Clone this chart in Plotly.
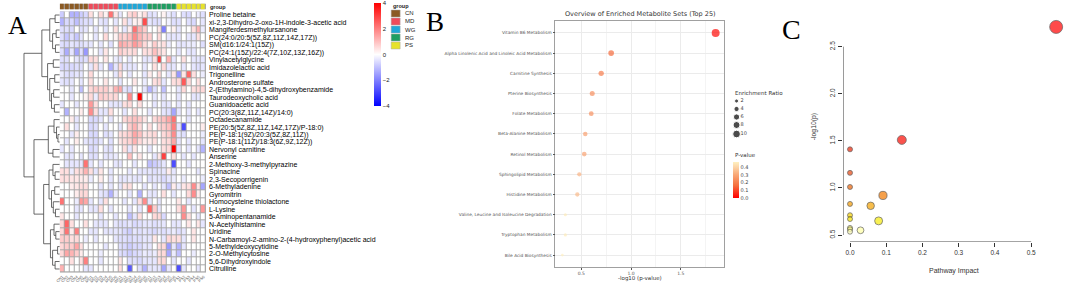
import math
import plotly.graph_objects as go

W, H = 1065, 284


def fx(p):
    return p / W


def fy(p):
    return 1 - p / H


# ---------------- Panel A: heatmap data ----------------
metabolites = [
    "Proline betaine", "xi-2,3-Dihydro-2-oxo-1H-indole-3-acetic acid", "Mangiferdesmethylursanone",
    "PC(24:0/20:5(5Z,8Z,11Z,14Z,17Z))", "SM(d16:1/24:1(15Z))", "PC(24:1(15Z)/22:4(7Z,10Z,13Z,16Z))",
    "Vinylacetylglycine", "Imidazolelactic acid", "Trigonelline", "Androsterone sulfate",
    "2-(Ethylamino)-4,5-dihydroxybenzamide", "Taurodeoxycholic acid", "Guanidoacetic acid",
    "PC(20:3(8Z,11Z,14Z)/14:0)", "Octadecanamide", "PE(20:5(5Z,8Z,11Z,14Z,17Z)/P-18:0)",
    "PE(P-18:1(9Z)/20:3(5Z,8Z,11Z))", "PE(P-18:1(11Z)/18:3(6Z,9Z,12Z))", "Nervonyl carnitine",
    "Anserine", "2-Methoxy-3-methylpyrazine", "Spinacine", "2,3-Secoporrigenin", "6-Methyladenine",
    "Gyromitrin", "Homocysteine thiolactone", "L-Lysine", "5-Aminopentanamide", "N-Acetylhistamine",
    "Uridine", "N-Carbamoyl-2-amino-2-(4-hydroxyphenyl)acetic acid", "5-Methyldeoxycytidine",
    "2-O-Methylcytosine", "5,6-Dihydroxyindole", "Citrulline",
]
sample_groups = ["CN", "MD", "WG", "RG", "PS"]
group_colors = ["#8B5A24", "#EE4B5B", "#1FA7D8", "#1F9E62", "#E6E22C"]
sample_labels = [f"{g}{i}" for g in sample_groups for i in range(1, 7)]
sample_group_index = [gi for gi in range(5) for _ in range(6)]

heat_values = [
    [-0.8, 0, -1.2, -1.2, -0.8, -0.6, 0.5, 0, 0.6, 0.2, 2.2, 0.4, -0.4, 0, 0.6, 0.8, 0.2, 0.5, -0.5, -0.4, 0, 0.2, -0.3, -0.5, 0, -0.5, -0.6, 0, -0.3, -0.5],
    [-1.2, -0.6, -0.6, -1, -0.6, -0.5, -0.5, 0, -0.4, -0.5, 0, -0.4, 0, 0.5, -0.4, 0.2, 0.3, 2.8, -0.4, -0.5, -0.5, 0, -0.2, -0.5, -0.5, 0, -0.5, -0.6, 0, -0.4],
    [-0.5, -0.5, -0.6, 0, -0.5, -0.4, 0, -0.4, 0, -0.4, 0, 0.5, 0, -0.4, 0.3, 2.2, 1.2, 0.8, 0, 0, 0.4, -2, 0, 0.2, -0.4, 0, 0, 0.5, 1.2, -0.3],
    [-0.5, -0.9, -0.5, -0.9, -0.4, 0, 0, -0.4, 0, 0.6, 0, 0.2, 0.8, 0.7, 1, 1.8, 1.2, 0.8, 0.8, 0, 0.6, 0, -0.4, -0.4, -0.4, 0, -0.4, -0.4, 0.5, 0],
    [-0.5, -0.6, -0.4, -0.5, -0.5, -0.4, -0.4, 0, -0.4, 0, -0.5, 0, 1.4, 1.2, 1, 1.6, 1.2, 0.6, 0.2, 0.8, 0.3, 0.5, -0.3, 0, -0.4, -0.4, -0.3, -0.3, 0, -0.5],
    [-0.5, -1.3, -0.4, -1.4, -0.5, -1.6, 0, 0, -0.4, 0.4, 0, 0, 0.8, 0.6, 0.5, 0.6, 0, 0.5, 0.5, 1, 0.6, 0.4, 0, 0, -0.4, 0, -0.4, -0.4, 0, 0],
    [-0.5, -0.5, 0, -0.4, -0.6, -0.5, 0.6, 0.5, 0, 0.4, 0, -0.3, -0.4, 0, -0.4, 0, 0, -0.4, -0.4, 0.5, 3, 0, 1.2, -0.4, 0, 0.5, 0, -0.4, -0.4, -0.4],
    [-0.6, -0.6, -0.6, -0.5, -0.5, 0, -0.4, 0.5, -0.4, 0, -1.2, -0.4, 0.6, -0.4, -0.4, -0.4, 0, -0.4, 0, 0.5, 0, 0.6, -0.4, -0.4, 0, -0.4, 0, -0.4, -0.5, -0.4],
    [-0.3, -0.5, -0.5, -0.4, -0.4, 0, 0.6, 0, 0, 0, 0, -0.4, 0.6, 0, -0.4, 0, 0, -0.4, 0.3, 0, 0.6, 0, -0.4, 0.4, -1.6, 0.4, 2.4, 0.5, 0, -0.3],
    [-0.4, -0.5, -0.4, 0, -0.4, 0, 0.5, 0, 0, 0.4, 0, 0, -0.4, 0, 0, 0.4, 0, -0.3, 0, 0.5, 0.6, -0.4, 0, 0.5, 0.6, 2.6, 0.6, 0, 0.5, 0],
    [0, 0, -0.4, 0, -1, 0, 0.6, 0.8, 0.7, 0.8, 0.4, 1.2, 1.4, -0.4, -0.6, 0, 0, -0.4, -1.2, -0.5, 0, -1, 0, 0, -0.4, 0.6, 0, 0.5, 0.6, 0.6],
    [0, 0, -0.4, 0, 0, 0.2, 0.6, -0.3, 0.8, 0.7, 0.6, 0.6, 0, 0, 1.8, 0, 4, 0, 0, -0.4, 0, -0.4, 0, 0, -0.4, 0, 0, -0.4, -0.4, 0],
    [-0.4, 0, 0, -0.4, 0, 0, 1.6, 0.5, 0, 0, -0.4, -0.4, -0.4, 0.5, 0.6, 0, 0.5, 0, 0, -0.4, 0, -0.4, -0.4, 0, -0.4, 0, -0.4, 0, 0, 0],
    [0, -1.2, 0, 0, 0.3, 0, 1.8, 0.5, -0.4, -0.4, 0.5, 0, 0, -0.4, 0, 0.5, 0, 0, -0.4, 0, 0, -0.4, -0.5, -1.4, -0.4, 0, -0.4, 0, -0.4, 0],
    [0, 0, 0.3, -0.4, 0, 0, -0.6, -0.6, -0.4, 0, -0.4, 0, 0, 0.6, 0.8, 1, 0.8, 0.4, 0, 0.6, 0.8, 1, 1.4, 2.2, 0, 0, -0.4, 0, 0, 0],
    [0, 0.5, 0, -0.4, 0, 0, -0.6, -0.5, 0, -0.4, 0, 0, -0.4, 0, 0.8, 1.2, 0.6, 0, 0.5, 0, 0.6, 0.8, 1, 2, -0.4, -2.8, 0, 0, 0, 0.3],
    [0, 0, -0.4, 0.3, 0, 0, -0.6, -0.6, 0, -0.5, -0.4, 0, 0.5, 0.6, 0.8, 1.4, 1, 0.4, 0.5, 0.6, 0, 0.6, 0.8, 1.8, -0.4, -0.5, 0, 0, 0, -0.3],
    [0, -0.4, 0, 0.3, 0, -0.4, -0.5, -0.6, -0.4, 0, -0.5, 0, 0.4, 0.6, 0.7, 1.2, 0.6, 0.3, 0.3, 0.5, 0, 0.5, 0.6, 1.4, -0.4, 0, -0.4, 0, 0, -0.4],
    [-0.4, 0, -0.4, 0, 0, 0, -0.6, -0.5, 0, -0.4, -0.5, 0, 0, 0.5, -0.4, 0.4, 0, 0, -0.4, 0, 0, 0.5, 0.6, 4, -0.4, 0, -0.4, 0, -0.4, -1.2],
    [0, -0.4, -0.4, 0, -0.4, 0, -0.5, -0.5, 0, -0.4, -0.4, -0.3, 0, 0, 1, 0, 0.4, 0, 0, -0.4, 0.4, 3, 0, 0.5, 0, -0.4, 0, -0.4, 0, 0],
    [0, -0.4, -0.4, -0.4, -0.4, 2.2, -0.4, 0, -0.4, 0, 0, -0.4, -0.4, 0, 0, -0.4, 0, 0, -1, -0.8, -0.6, -0.4, 0, -2.8, 0, 0, -0.4, 0, 0, 0],
    [0.5, 0.5, -0.3, 0.5, 0.6, 1.2, 0.5, -0.4, 0.4, 0, -0.4, 0, 0, 0, -0.4, 0, -0.4, -0.4, -0.4, -0.5, -0.4, -0.4, 0.3, -0.4, 0, 0, 0, 0, -0.4, 0],
    [0.5, 0.5, 0.4, 0.4, 0.3, 0.3, -0.3, 0, 0.3, 0, -0.4, 0, -0.4, -0.4, -0.3, -0.4, -0.4, 0, -0.5, -0.4, -0.4, -0.6, -0.4, -0.3, 0, -0.3, 0, 0, 0, -0.3],
    [0, 0, 0.3, 0.4, 0.5, 0.5, 0, 0, -0.4, 0, -0.4, 0, -0.4, 0.4, 0.5, 0, 0, -0.4, 0, -0.4, 0, -0.4, -1, 0.3, -0.3, 0.4, 0.5, 1.8, 0.4, -1.4],
    [0, 0, 0, 0.3, 0.6, 0.6, 0, 0, -0.4, -0.5, -1.2, -0.3, 0, 0, -0.4, 0, -1.2, 0, -0.4, -0.4, 0, 0.5, 0, -0.4, 0, 0, 0.6, 1.8, 0.3, 0],
    [2.2, 0, 0, -0.3, 1.6, 1.4, -0.4, 0, -0.4, 0.5, 0, 0, 0, -0.4, 0, -0.4, 0.5, 1.8, -0.4, 0, -0.4, 0, 0, 0, 0.4, 0, -0.4, 0, 0, 0],
    [0, 0, 0, -0.4, -0.4, 0, -0.4, -0.4, 0.5, 0, -0.4, 0, 0, 0, -0.4, 0, -0.4, 0, 2.4, 0.8, -0.4, 0, 0, 0, 0.5, 1.6, 0, -0.4, 0, 1.6],
    [0.4, 0, 0, -0.4, 0, 0, 0, 0, -0.4, 0, 0, -0.4, 0, 0, -1, -0.4, 0.5, 0, 0, 0.6, 0.6, -0.6, 0, 0, 0, 1.8, 0.5, 0, -0.4, 0],
    [0.6, 2.4, 0.5, 0, 0, 0.5, 0, -0.4, -0.4, -0.4, 0, -0.4, -0.5, -0.5, -0.4, -0.6, -0.5, -0.4, -0.4, -0.5, -0.4, -0.4, 0, -0.4, -0.4, 0, 0.4, 0, 0.4, -0.4],
    [0.6, 2.2, 0.3, 2, 0, 0, -0.4, -0.4, 0, -0.4, -0.4, -0.4, -0.4, -0.6, -0.8, -0.4, -0.5, -0.4, -0.5, -0.6, -0.4, -0.5, -0.4, -0.3, -0.5, -0.4, 0, 0.4, 0, 0],
    [0.8, 0.8, 0.5, 0.6, 0, -0.3, 0, -0.4, 0, 0, 0, -0.4, -0.5, -0.5, -0.6, -0.5, -0.5, -0.4, -0.4, 0.4, 0, -0.4, 0.6, 0.5, 0.5, -0.4, 0, 0.4, 0, 0],
    [0.6, 0.8, 0.8, 1.4, 0.5, 0, 0, 0, 0, -0.4, 0, 0, -0.5, -0.6, -0.8, -0.6, -0.6, -0.4, -0.4, 0, 0.5, 0.6, -1.6, -0.4, -1.2, -0.4, 0, 0, 0, 0],
    [0.6, 1.4, 1.2, 0.8, 0.3, 0, 0, 0, -0.3, 0, 0, 0, -0.5, -0.6, -0.8, -0.6, -0.5, -0.3, -0.4, -0.3, 0.5, 0.6, -1.4, -0.3, -1, 0, 0, -0.3, 0, 0],
    [0, 0, 0.5, 0, 0.5, 2, 0, 0, -0.4, 0, 0, 0, 0.4, 0, -0.5, -0.5, -0.6, -0.4, -0.4, -0.4, 0.5, 0.6, 0, -0.4, 0, 0, -0.4, 0, 0, 0],
    [1.2, 0, 0, 0, 0, -0.4, -0.4, 0, 0, 0, 0, 0, 0.5, 0, -2.6, 0, -0.5, -1.2, -0.4, -0.4, -0.4, -1.4, -0.4, 0, -2.8, -0.4, 0, 0, -0.4, 0],
]

# row dendrogram: (merge height, left, right); leaves are row indices
dendro_tree = (10.0,
    (5.0,
        (2.8, (1.3, 0, 1), (2.0, (1.0, 2, 3), (1.2, 4, 5))),
        (3.4, (1.8, 6, 7), (2.8, (1.4, 8, 9), (2.3, (1.7, 10, 11), (1.5, 12, 13))))),
    (7.2,
        (3.2, (1.6, 14, (0.9, 15, (0.5, 16, 17))), (1.9, 18, 19)),
        (4.5,
            (3.0, (1.9, 20, (1.3, 21, 22)), (2.3, (1.4, 23, 24), (1.8, 25, (1.2, 26, 27)))),
            (2.6, (1.6, 28, (1.1, 29, 30)), (2.0, (0.6, 31, 32), (1.3, 33, 34))))))

# ---------------- Panel B: MSEA ----------------
msea_sets = [
    "Vitamin B6 Metabolism", "Alpha Linolenic Acid and Linoleic Acid Metabolism", "Carnitine Synthesis",
    "Pterine Biosynthesis", "Folate Metabolism", "Beta-Alanine Metabolism", "Retinol Metabolism",
    "Sphingolipid Metabolism", "Histidine Metabolism", "Valine, Leucine and Isoleucine Degradation",
    "Tryptophan Metabolism", "Bile Acid Biosynthesis",
]
msea_neglog10p = [1.85, 0.80, 0.70, 0.61, 0.60, 0.54, 0.53, 0.48, 0.46, 0.34, 0.34, 0.31]
msea_enrichment = [10.8, 4.9, 4.1, 3.6, 3.2, 2.8, 3.0, 2.4, 2.4, 1.0, 1.0, 0.6]
msea_pvalue = [10 ** (-v) for v in msea_neglog10p]
size_legend_values = [2, 4, 6, 8, 10]

# ---------------- Panel C: pathway analysis ----------------
pathway_impact = [0.569, 0.143, 0.0, 0.0, 0.0, 0.091, 0.0, 0.057, 0.0, 0.0, 0.079, 0.0, 0.0, 0.029, 0.0]
pathway_neglog10p = [2.71, 1.51, 1.41, 1.16, 1.01, 0.92, 0.83, 0.81, 0.71, 0.67, 0.65, 0.575, 0.56, 0.55, 0.535]


def er_size(er):
    return 1 + 2.12 * math.sqrt(er)


def impact_size(imp):
    return 5 + 8 * math.sqrt(imp / 0.57)


# dendrogram segments
dx, dy = [], []


def walk(node):
    if isinstance(node, int):
        return node, 0.0
    h, left, right = node
    yl, hl = walk(left)
    yr, hr = walk(right)
    dx.extend([hl, h, h, hr, None])
    dy.extend([yl, yl, yr, yr, None])
    return (yl + yr) / 2, h


walk(dendro_tree)

fig = go.Figure()

heat_dom_y = [fy(272.7), fy(11.3)]
heat_dom_x = [fx(55), fx(202)]

fig.add_trace(go.Heatmap(
    z=heat_values, x=list(range(30)), y=list(range(35)),
    colorscale=[[0, "#0000FF"], [0.5, "#FFFFFF"], [1, "#FF0000"]], zmin=-4, zmax=4,
    xgap=1, ygap=1, xaxis="x", yaxis="y",
    colorbar=dict(x=fx(371), xanchor="left", y=fy(54.5), yanchor="middle", len=103 / H,
                  thickness=7, outlinewidth=0, ticks="", ypad=0, xpad=0,
                  tickvals=[-4, -2, 0, 2, 4], tickfont=dict(family="Liberation Sans", size=6, color="#222")),
))

fig.add_trace(go.Heatmap(
    z=[sample_group_index], x=list(range(30)), y=[0],
    colorscale=[[0, group_colors[0]], [0.125, group_colors[0]], [0.125, group_colors[1]], [0.375, group_colors[1]],
                [0.375, group_colors[2]], [0.625, group_colors[2]], [0.625, group_colors[3]], [0.875, group_colors[3]],
                [0.875, group_colors[4]], [1, group_colors[4]]],
    zmin=0, zmax=4, showscale=False, xgap=1, ygap=0, xaxis="x2", yaxis="y2",
))

fig.add_trace(go.Scatter(x=dx, y=dy, mode="lines", line=dict(color="#444", width=0.8),
                         xaxis="x3", yaxis="y3", showlegend=False, hoverinfo="skip"))

# Panel B
fig.add_trace(go.Scatter(
    x=msea_neglog10p, y=list(range(len(msea_sets))), mode="markers",
    marker=dict(size=[er_size(e) for e in msea_enrichment], color=msea_pvalue,
                colorscale=[[0, "#FF0000"], [0.35, "#F5703F"], [0.65, "#F9A877"], [0.85, "#FCD3A6"], [1, "#FFF0C0"]],
                cmin=0, cmax=0.47,
                line=dict(width=0),
                colorbar=dict(x=fx(731), xanchor="left", y=fy(180), yanchor="middle", len=36 / H,
                              thickness=6, outlinewidth=0, ticks="", ypad=0, xpad=0,
                              tickvals=[0, 0.1, 0.2, 0.3, 0.4], ticktext=["0.0", "0.1", "0.2", "0.3", "0.4"],
                              tickfont=dict(family="DejaVu Sans", size=5, color="#444"))),
    xaxis="x4", yaxis="y4", showlegend=False,
))

leg_y = [4, 12, 20, 28, 37]
fig.add_trace(go.Scatter(
    x=[7] * 5, y=leg_y, mode="markers",
    marker=dict(size=[er_size(v) for v in size_legend_values], color="black"),
    xaxis="x6", yaxis="y6", showlegend=False, hoverinfo="skip"))
fig.add_trace(go.Scatter(
    x=[11] * 5, y=leg_y, mode="text", text=[str(v) for v in size_legend_values], textposition="middle right",
    textfont=dict(family="DejaVu Sans", size=5, color="#444"),
    xaxis="x6", yaxis="y6", showlegend=False, hoverinfo="skip"))

# Panel C
fig.add_trace(go.Scatter(
    x=pathway_impact, y=pathway_neglog10p, mode="markers",
    marker=dict(size=[impact_size(v) for v in pathway_impact], color=pathway_neglog10p,
                colorscale=[[0, "#FFFFF0"], [0.05, "#FFFFA0"], [0.15, "#F5E800"], [0.3, "#F5A000"],
                            [0.42, "#F07000"], [0.6, "#E84A10"], [0.85, "#E82A08"], [1, "#FF0000"]],
                cmin=0.5, cmax=1.55, line=dict(color="#222", width=0.7)),
    xaxis="x5", yaxis="y5", showlegend=False, cliponaxis=False,
))

hidden = dict(visible=False, showgrid=False, zeroline=False)
fig.update_layout(
    width=W, height=H, margin=dict(l=0, r=0, t=0, b=0, pad=0),
    paper_bgcolor="white", plot_bgcolor="rgba(0,0,0,0)", showlegend=False,
    xaxis=dict(domain=heat_dom_x, range=[-0.5, 29.5], tickvals=list(range(30)), ticktext=sample_labels,
               tickangle=-45, tickfont=dict(family="Liberation Sans", size=4, color="#555"),
               showgrid=False, zeroline=False, ticks="", anchor="y"),
    yaxis=dict(domain=heat_dom_y, range=[34.5, -0.5], tickvals=list(range(35)), ticktext=metabolites,
               side="right", tickfont=dict(family="Liberation Sans", size=7, color="black"),
               showgrid=False, zeroline=False, ticks="", anchor="x", ticklabelstandoff=2),
    xaxis2=dict(domain=heat_dom_x, range=[-0.5, 29.5], anchor="y2", **hidden),
    yaxis2=dict(domain=[fy(9.5), fy(3.5)], range=[-0.5, 0.5], anchor="x2", **hidden),
    xaxis3=dict(domain=[fx(18), fx(55)], range=[10.3, 0], anchor="y3", **hidden),
    yaxis3=dict(domain=heat_dom_y, range=[34.5, -0.5], anchor="x3", **hidden),
    xaxis4=dict(domain=[fx(553), fx(722)], range=[0.24, 1.93], anchor="y4",
                tickvals=[0.5, 1.0, 1.5], ticktext=["0.5", "1.0", "1.5"], ticks="outside", ticklen=2,
                tickcolor="#555", tickfont=dict(family="DejaVu Sans", size=4.5, color="#555"),
                showgrid=True, gridcolor="#EBEBEB", gridwidth=0.8, zeroline=False,
                showline=True, mirror=True, linecolor="#A0A0A0", linewidth=0.8,
                minor=dict(tickvals=[0.25, 0.75, 1.25, 1.75], showgrid=True, gridcolor="#F4F4F4", ticks="")),
    yaxis4=dict(domain=[fy(267), fy(21)], range=[11.59, -0.59], anchor="x4",
                tickvals=list(range(len(msea_sets))), ticktext=msea_sets, ticks="outside", ticklen=2,
                tickcolor="#555", tickfont=dict(family="DejaVu Sans", size=4.3, color="#555"),
                showgrid=True, gridcolor="#EBEBEB", gridwidth=0.8, zeroline=False,
                showline=True, mirror=True, linecolor="#A0A0A0", linewidth=0.8),
    xaxis6=dict(domain=[fx(728), fx(760)], range=[0, 32], anchor="y6", **hidden),
    yaxis6=dict(domain=[fy(140), fy(97)], range=[43, 0], anchor="x6", **hidden),
    xaxis5=dict(domain=[fx(842), 1], range=[-0.0192, 0.5934], anchor="y5",
                tickvals=[0, 0.1, 0.2, 0.3, 0.4, 0.5], ticktext=["0.0", "0.1", "0.2", "0.3", "0.4", "0.5"],
                ticks="outside", ticklen=4, tickcolor="#333",
                tickfont=dict(family="Liberation Sans", size=6.5, color="#333"),
                showgrid=False, zeroline=False, showline=False),
    yaxis5=dict(domain=[fy(242), 1], range=[0.4256, 2.996], anchor="x5",
                tickvals=[0.5, 1.0, 1.5, 2.0, 2.5], ticktext=["0.5", "1.0", "1.5", "2.0", "2.5"],
                ticks="outside", ticklen=4, tickcolor="#333", tickangle=-90,
                tickfont=dict(family="Liberation Sans", size=6.5, color="#333"),
                showgrid=False, zeroline=False, showline=False),
)

shapes = [
    dict(type="rect", xref="x", yref="y", x0=-0.5, x1=29.5, y0=-0.5, y1=34.5,
         fillcolor="#A8A8A8", line=dict(width=0), layer="below"),
    dict(type="rect", xref="x2", yref="y2", x0=-0.5, x1=29.5, y0=-0.5, y1=0.5,
         fillcolor="#A8A8A8", line=dict(width=0), layer="below"),
    dict(type="line", xref="x5", yref="y5", x0=0, x1=0.5, y0=0.4256, y1=0.4256, line=dict(color="#333", width=0.9)),
    dict(type="line", xref="x5", yref="y5", x0=-0.0192, x1=-0.0192, y0=0.5, y1=2.5, line=dict(color="#333", width=0.9)),
]
annotations = []
for i, (g, c) in enumerate(zip(sample_groups, group_colors)):
    top = 10 + 8 * i
    shapes.append(dict(type="rect", xref="paper", yref="paper", x0=fx(388), x1=fx(397), y0=fy(top + 7), y1=fy(top),
                       fillcolor=c, line=dict(color="#A8A8A8", width=0.5)))
    annotations.append(dict(x=fx(400), y=fy(top + 3.5), xref="paper", yref="paper", text=g, showarrow=False,
                            xanchor="left", yanchor="middle", font=dict(family="Liberation Sans", size=6, color="#222")))


def ann(text, x, y, size, family="Liberation Sans", color="#222", xanchor="center", textangle=0, bold=False):
    annotations.append(dict(x=fx(x), y=fy(y), xref="paper", yref="paper",
                            text=f"<b>{text}</b>" if bold else text, showarrow=False,
                            xanchor=xanchor, yanchor="middle", textangle=textangle,
                            font=dict(family=family, size=size, color=color)))


ann("A", 13, 25, 26, family="Liberation Serif", color="black")
ann("B", 432, 22, 27, family="Liberation Serif", color="black")
ann("C", 790, 30, 28, family="Liberation Serif", color="black")
ann("group", 204, 6.5, 5.5, xanchor="left", bold=True)
ann("group", 388, 5.5, 5.5, xanchor="left", bold=True)
ann("Overview of Enriched Metabolite Sets (Top 25)", 638, 14, 6.5, family="DejaVu Sans", color="#333")
ann("-log10 (p-value)", 638, 278, 5.5, family="DejaVu Sans", color="#333")
ann("Enrichment Ratio", 731, 93, 5.5, family="DejaVu Sans", color="#333", xanchor="left")
ann("P-value", 731, 155, 5.5, family="DejaVu Sans", color="#333", xanchor="left")
ann("-log10(p)", 813, 127, 6.8, color="#333", textangle=-90)
ann("Pathway Impact", 953, 271, 7, color="#333")

fig.update_layout(shapes=shapes, annotations=annotations)
fig.write_html(
    "out.html",
    config={"displayModeBar": False},
    post_script="document.body.style.margin='0px';document.body.style.padding='0px';"
                "document.body.style.overflow='hidden';",
)
